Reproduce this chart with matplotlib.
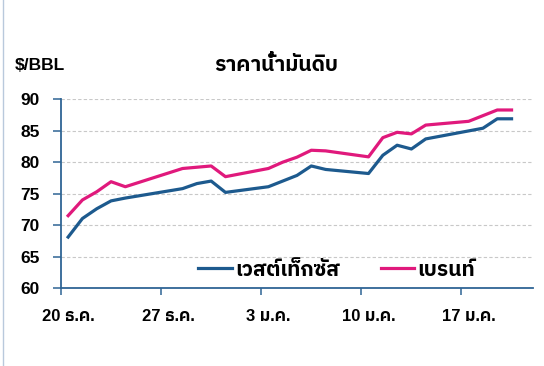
import matplotlib
matplotlib.use("Agg")
import matplotlib.pyplot as plt
import matplotlib.transforms as mtransforms
from matplotlib.lines import Line2D
import pandas as pd

# --- data (USD per barrel) ---
wti_dates = ["2021-12-20", "2021-12-21", "2021-12-22", "2021-12-23", "2021-12-24",
             "2021-12-28", "2021-12-29", "2021-12-30", "2021-12-31",
             "2022-01-03", "2022-01-04", "2022-01-05", "2022-01-06", "2022-01-07",
             "2022-01-10", "2022-01-11", "2022-01-12", "2022-01-13", "2022-01-14",
             "2022-01-18", "2022-01-19", "2022-01-20"]
wti_prices = [68.1, 71.05, 72.6, 73.85, 74.3,
              75.8, 76.6, 77.0, 75.2,
              76.1, 77.0, 77.9, 79.4, 78.85,
              78.2, 81.1, 82.7, 82.1, 83.7,
              85.4, 86.9, 86.9]

brent_dates = ["2021-12-20", "2021-12-21", "2021-12-22", "2021-12-23", "2021-12-24",
               "2021-12-28", "2021-12-29", "2021-12-30", "2021-12-31",
               "2022-01-03", "2022-01-04", "2022-01-05", "2022-01-06", "2022-01-07",
               "2022-01-10", "2022-01-11", "2022-01-12", "2022-01-13", "2022-01-14",
               "2022-01-17", "2022-01-18", "2022-01-19", "2022-01-20"]
brent_prices = [71.5, 74.0, 75.3, 76.9, 76.1,
                79.0, 79.2, 79.4, 77.7,
                79.0, 80.0, 80.8, 81.9, 81.8,
                80.85, 83.9, 84.75, 84.5, 85.9,
                86.5, 87.4, 88.3, 88.3]

tick_dates = ["2021-12-20", "2021-12-27", "2022-01-03", "2022-01-10", "2022-01-17"]
tick_labels = ["20 ธ.ค.", "27 ธ.ค.", "3 ม.ค.", "10 ม.ค.", "17 ม.ค."]
series_labels = ["เวสต์เท็กซัส", "เบรนท์"]

BLUE = "#1d5a8e"
PINK = "#e0197c"
AXIS = "#2f6595"

# Latin digits from an Arial-like face, Thai glyphs from a loopless Thai sans
plt.rcParams["font.family"] = ["Liberation Sans", "IBM Plex Sans Thai", "Kanit", "DejaVu Sans"]
plt.rcParams["font.weight"] = "bold"

# points sit in the middle of each day
half_day = pd.Timedelta(hours=12)
wti_x = pd.to_datetime(wti_dates) + half_day
brent_x = pd.to_datetime(brent_dates) + half_day

fig = plt.figure(figsize=(5.44, 3.66), dpi=100)
ax = fig.add_axes([0.1121, 0.2131, 0.8677, 0.5156])

ax.plot(wti_x, wti_prices, color=BLUE, lw=2.3, label=series_labels[0])
ax.plot(brent_x, brent_prices, color=PINK, lw=2.3, label=series_labels[1])

ax.set_ylim(60, 90)
ax.set_yticks(range(60, 91, 5))
ax.set_xlim(pd.Timestamp("2021-12-20"), pd.Timestamp("2022-01-22"))
ax.set_xticks(pd.to_datetime(tick_dates))
ax.set_xticklabels(tick_labels)

ax.grid(axis="y", color="#c8c8c8", ls=(0, (3, 2)), lw=0.8)
ax.set_axisbelow(True)
for side in ("top", "right"):
    ax.spines[side].set_visible(False)
for side in ("left", "bottom"):
    ax.spines[side].set_color(AXIS)
    ax.spines[side].set_linewidth(1.3)

ax.tick_params(axis="y", length=6, width=1.1, color=AXIS, pad=9.5, labelsize=12.5)
ax.tick_params(axis="x", length=5, width=1.1, color=AXIS, pad=10, labelsize=12)

shift = mtransforms.ScaledTranslation(0.07, 0, fig.dpi_scale_trans)
for lbl in ax.get_xticklabels():
    lbl.set_transform(lbl.get_transform() + shift)

fig.text(0.507, 0.822, "ราคาน้ำมันดิบ", ha="center", va="center",
         fontsize=15, fontweight="bold")
fig.text(0.028, 0.822, "$/BBL", ha="left", va="center",
         fontsize=12.5, fontweight="bold")

fig.legend(loc="center", bbox_to_anchor=(0.619, 0.262), ncol=2, frameon=False,
           fontsize=15, handlelength=1.6, handletextpad=0.15, columnspacing=2.0)

# thin window edge visible at the left of the screenshot
fig.add_artist(Line2D([0.006, 0.006], [0, 1], transform=fig.transFigure,
                      color="#b9c9dc", lw=1))

fig.savefig("out.png", dpi=100)
